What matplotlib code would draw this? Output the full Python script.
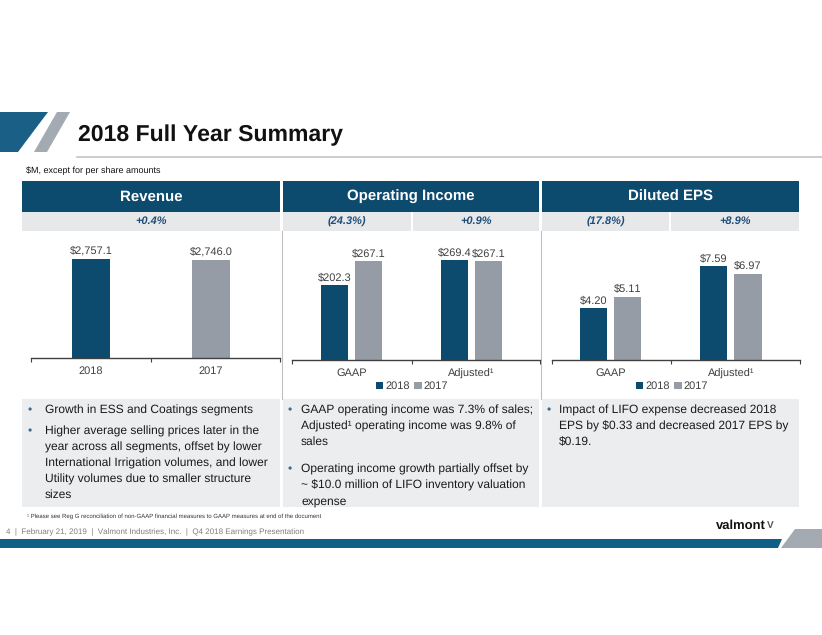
import matplotlib
matplotlib.use("Agg")
import matplotlib.pyplot as plt
from matplotlib.patches import Polygon, Rectangle
from matplotlib.lines import Line2D

plt.rcParams['font.family'] = ['Liberation Sans', 'DejaVu Sans']
plt.rcParams['text.hinting'] = 'no_hinting'
plt.rcParams['text.hinting_factor'] = 1

# ---------------- data ----------------
title = "2018 Full Year Summary"
subtitle = "$M, except for per share amounts"
headers = ["Revenue", "Operating Income", "Diluted EPS"]

rev_categories = ["2018", "2017"]
rev_values = [2757.1, 2746.0]
rev_labels = ["$2,757.1", "$2,746.0"]
rev_change = ["+0.4%"]

groups = ["GAAP", "Adjusted\u00b9"]
series = ["2018", "2017"]
oi_2018 = [202.3, 269.4]
oi_2017 = [267.1, 267.1]
oi_labels_2018 = ["$202.3", "$269.4"]
oi_labels_2017 = ["$267.1", "$267.1"]
oi_change = ["(24.3%)", "+0.9%"]

eps_2018 = [4.20, 7.59]
eps_2017 = [5.11, 6.97]
eps_labels_2018 = ["$4.20", "$7.59"]
eps_labels_2017 = ["$5.11", "$6.97"]
eps_change = ["(17.8%)", "+8.9%"]

bullets_rev = [["Growth in ESS and Coatings segments"],
               ["Higher average selling prices later in the",
                "year across all segments, offset by lower",
                "International Irrigation volumes, and lower",
                "Utility volumes due to smaller structure",
                "sizes"]]
bullets_oi = [["GAAP operating income was 7.3% of sales;",
               "Adjusted\u00b9 operating income was 9.8% of",
               "sales"],
              ["Operating income growth partially offset by",
               "~ $10.0 million of LIFO inventory valuation",
               "expense"]]
bullets_eps = [["Impact of LIFO expense decreased 2018",
                "EPS by $0.33 and decreased 2017 EPS by",
                "$0.19."]]
footnote = "\u00b9 Please see Reg G reconciliation of non-GAAP financial measures to GAAP measures at end of the document"
footer = "4  |  February 21, 2019  |  Valmont Industries, Inc.  |  Q4 2018 Earnings Presentation"

# ---------------- style ----------------
BLUE = "#0C4A6E"
GRAY = "#959CA6"
HDR = "#0C4A6E"
SUB = "#E7E8EA"
BOX = "#ECEDEF"
DEC_BLUE = "#1A5F86"
DEC_GRAY = "#A3AAB2"
TXT = "#404040"
SUBTXT = "#1F4E79"

W, H = 822, 635
fig = plt.figure(figsize=(W / 100, H / 100), dpi=100)
fig.patch.set_facecolor("white")

bg = fig.add_axes([0, 0, 1, 1])
bg.set_xlim(0, W)
bg.set_ylim(H, 0)
bg.axis("off")
bg.set_zorder(0)

# decorations
bg.add_patch(Polygon([(0, 112), (48, 112), (18, 152), (0, 152)], closed=True, fc=DEC_BLUE, ec="none"))
bg.add_patch(Polygon([(57, 112), (70, 112), (47, 152), (34, 152)], closed=True, fc=DEC_GRAY, ec="none"))
bg.text(78, 135, title, fontsize=16.9, fontweight="bold", color="#111111", va="center", ha="left")
bg.add_line(Line2D([77, W], [157, 157], color="#C0C3C8", lw=1.2))
bg.text(26, 171, subtitle, fontsize=6.35, color="#111111", va="center", ha="left", parse_math=False)

# header boxes
cols = [(22, 280), (283, 539), (542, 799)]
for (x0, x1), h in zip(cols, headers):
    bg.add_patch(Rectangle((x0, 181), x1 - x0, 31, fc=HDR, ec="none"))
    bg.text((x0 + x1) / 2, 197, h, color="white", fontsize=11, fontweight="bold", ha="center", va="center")

# sub-header cells
sub_cells = [((22, 280), rev_change[0]),
             ((283, 411), oi_change[0]), ((413, 539), oi_change[1]),
             ((542, 669), eps_change[0]), ((671, 799), eps_change[1])]
for (x0, x1), t in sub_cells:
    bg.add_patch(Rectangle((x0, 212), x1 - x0, 19, fc=SUB, ec="none"))
    bg.text((x0 + x1) / 2, 221.5, t, color=SUBTXT, fontsize=7.8, fontweight="bold", style="italic",
            ha="center", va="center")

# separators
for x in (281.5, 540.5):
    bg.add_line(Line2D([x, x], [231, 399], color="#BFBFBF", lw=0.8))

# bullet boxes
for x0, x1 in cols:
    bg.add_patch(Rectangle((x0, 399), x1 - x0, 108, fc=BOX, ec="none"))


def draw_bullets(items, xb, xt, starts):
    for lines, y0 in zip(items, starts):
        bg.text(xb, y0, "\u2022", color="#3D6A8C", fontsize=8.5, ha="left", va="center")
        for i, ln in enumerate(lines):
            bg.text(xt, y0 + i * 16, ln, color="#1A1A1A", fontsize=8.7, ha="left", va="center",
                    parse_math=False)


draw_bullets(bullets_rev, 28, 45, [410, 431])
draw_bullets(bullets_oi, 288, 301, [410, 469])
draw_bullets(bullets_eps, 547, 559, [410])

bg.text(27, 516, footnote, fontsize=4.2, color="#333333", ha="left", va="center", parse_math=False)
bg.text(6, 532, footer, fontsize=6.1, color="#7F7F7F", ha="left", va="center", parse_math=False)

# bottom band
bg.add_patch(Polygon([(0, 539), (782, 539), (778, 548), (0, 548)], closed=True, fc="#0F5F86", ec="none"))
bg.add_patch(Polygon([(795, 529), (W, 529), (W, 548), (781, 548)], closed=True, fc=DEC_GRAY, ec="none"))
bg.text(716, 526, "valmont", fontsize=9, fontweight="bold", color="#111111", ha="left", va="center")
bg.text(767, 525, "V", fontsize=7.5, fontweight="bold", color="#555555", ha="left", va="center")


# ---------------- charts ----------------
def px_axes(x0, y0, x1, y1):
    a = fig.add_axes([x0 / W, 1 - y1 / H, (x1 - x0) / W, (y1 - y0) / H])
    a.set_facecolor("none")
    a.set_zorder(2)
    for s in ("top", "right", "left"):
        a.spines[s].set_visible(False)
    a.spines["bottom"].set_color("#404040")
    a.spines["bottom"].set_linewidth(1.0)
    a.set_yticks([])
    return a


def style_x(a, xlim, labels, positions):
    a.set_xlim(*xlim)
    a.set_xticks(positions)
    a.set_xticklabels(labels, fontsize=7.6, color=TXT)
    a.tick_params(axis="x", which="major", length=0, pad=6)
    a.set_xticks([xlim[0], 0.5, xlim[1]], minor=True)
    a.tick_params(axis="x", which="minor", length=3, width=0.8, color="#404040", direction="out")


def label_bars(a, bars, labels, fs):
    for b, t in zip(bars, labels):
        a.annotate(t, (b.get_x() + b.get_width() / 2, b.get_height()), xytext=(0, 2),
                   textcoords="offset points", ha="center", va="bottom", fontsize=fs, color=TXT,
                   parse_math=False)


LEG = dict(loc="center", bbox_to_anchor=(0.484, -0.21), ncol=2, frameon=False, fontsize=7.6,
           handlelength=0.7, handleheight=0.7, handletextpad=0.2, columnspacing=0.45,
           labelcolor=TXT, borderpad=0)

# Revenue
ax1 = px_axes(31, 235, 280, 358)
ax1.set_ylim(0, 3430)
b = ax1.bar([0, 1], rev_values, width=0.32, color=[BLUE, GRAY])
label_bars(ax1, b, rev_labels, 8.2)
style_x(ax1, (-0.5, 1.575), rev_categories, [0, 1])

# Operating income
ax2 = px_axes(292, 235, 540, 360)
ax2.set_ylim(0, 337)
xs = [0, 1]
off = 0.142
bw = 0.225
b1 = ax2.bar([x - off for x in xs], oi_2018, width=bw, color=BLUE, label=series[0])
b2 = ax2.bar([x + off for x in xs], oi_2017, width=bw, color=GRAY, label=series[1])
label_bars(ax2, b1, oi_labels_2018, 7.8)
label_bars(ax2, b2, oi_labels_2017, 7.8)
style_x(ax2, (-0.496, 1.571), groups, xs)
ax2.legend(**LEG)

# EPS
ax3 = px_axes(552, 235, 800, 360)
ax3.set_ylim(0, 10.1)
b1 = ax3.bar([x - off for x in xs], eps_2018, width=bw, color=BLUE, label=series[0])
b2 = ax3.bar([x + off for x in xs], eps_2017, width=bw, color=GRAY, label=series[1])
label_bars(ax3, b1, eps_labels_2018, 7.8)
label_bars(ax3, b2, eps_labels_2017, 7.8)
style_x(ax3, (-0.49, 1.575), groups, xs)
ax3.legend(**LEG)

fig.savefig("out.png", dpi=100)
